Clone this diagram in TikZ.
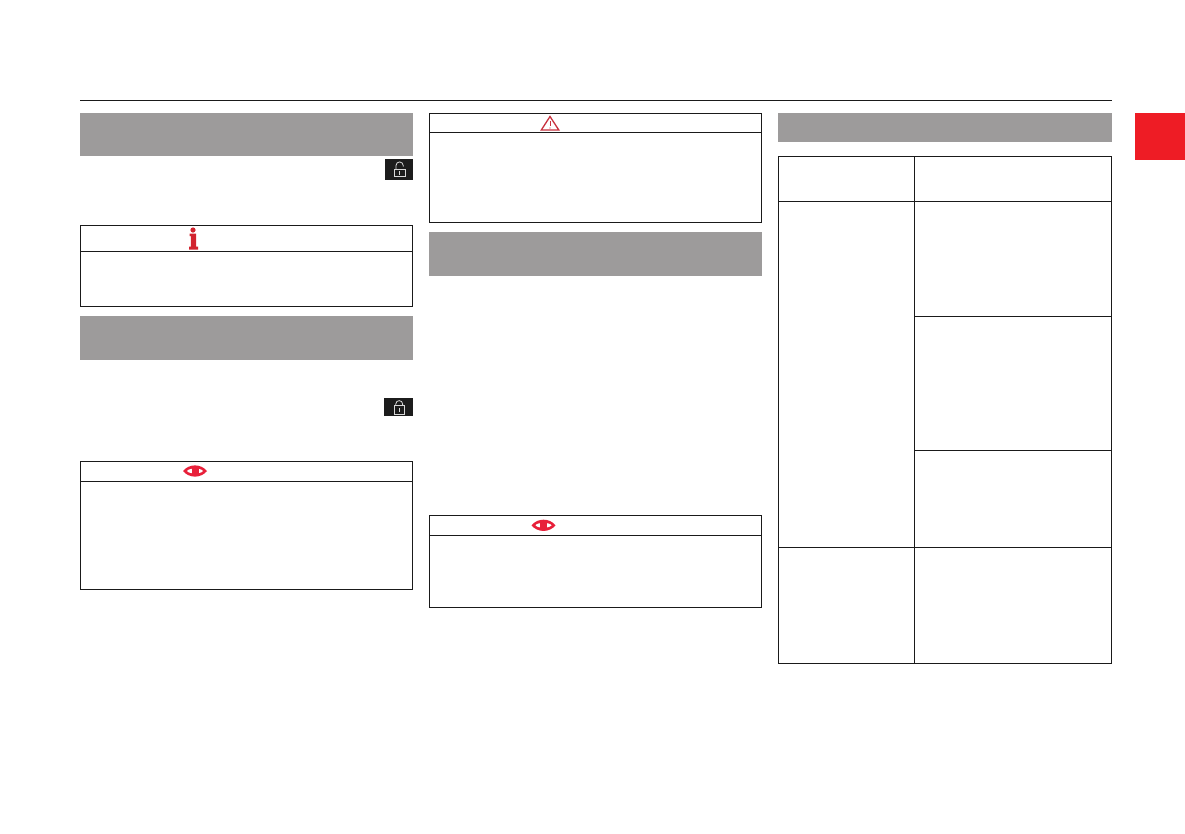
\documentclass[tikz,border=0pt]{standalone}
\definecolor{bandgrey}{HTML}{9D9B9B}
\definecolor{rule}{HTML}{1A1A1A}
\definecolor{tabred}{HTML}{EE1C25}
\definecolor{iconred}{HTML}{D2232E}
\definecolor{eyered}{HTML}{E8203A}
\definecolor{warnred}{HTML}{C8323F}
\definecolor{iconbg}{HTML}{1C1C1C}
\definecolor{iconfg}{HTML}{D8D8D8}
\tikzset{
  band/.style={fill=bandgrey,draw=none},
  frame/.style={draw=rule,line width=1.1pt},
  iconbox/.style={fill=iconbg,draw=none},
  iconline/.style={draw=iconfg,line width=0.8pt},
  pics/eye/.style={code={
    \fill[eyered] (-12,0) .. controls (-6,-7.5) and (6,-7.5) .. (12,0) .. controls (6,7.5) and (-6,7.5) .. (-12,0) -- cycle;
    \fill[white] (-8,0) .. controls (-6,-3.2) and (6,-3.2) .. (8,0) .. controls (6,3.2) and (-6,3.2) .. (-8,0) -- cycle;
    \fill[eyered] (-3.5,-4) rectangle (3.5,4);
  }},
}
\begin{document}
\begin{tikzpicture}[x=1pt,y=-1pt]
\useasboundingbox (0,0) rectangle (1185,833);
\fill[white] (0,0) rectangle (1185,833);
% header rule
\draw[rule,line width=1.1pt] (80,100.5) -- (1112,100.5);
% red tab
\fill[tabred] (1135,113) rectangle (1185,160);
% grey bands
\path[band] (80,113) rectangle (413,156);
\path[band] (80,316) rectangle (413,360);
\path[band] (429,232) rectangle (762,276);
\path[band] (778,113) rectangle (1112,142);
% unlock icon
\path[iconbox] (384.5,159) rectangle (413,179.5);
\draw[iconline] (394.5,169) rectangle (405,176.5);
\draw[iconline] (396,169) -- (396,165.5) arc[start angle=180,end angle=360,radius=3.6] -- (403.2,166.5);
\draw[iconfg,line width=0.7pt] (399.8,171) -- (399.8,175);
% lock icon
\path[iconbox] (384,398) rectangle (413,416);
\draw[iconline] (394,405.5) rectangle (404.5,414);
\draw[iconline] (395.8,405.5) -- (395.8,404) arc[start angle=180,end angle=360,radius=3.4] -- (402.6,405.5);
\draw[iconfg,line width=0.7pt] (399.2,408) -- (399.2,411.5);
% info box
\draw[frame] (80.5,225.5) rectangle (412.5,306.5);
\draw[frame] (80.5,251.5) -- (412.5,251.5);
\fill[iconred] (193,230) circle[radius=2.6];
\fill[iconred] (189.5,233.5) -- (196,233.5) -- (196,246.5) -- (198,246.5) -- (198,249.5) -- (189,249.5) -- (189,246.5) -- (190.8,246.5) -- (190.8,236) -- (189.5,236) -- cycle;
% left eye box
\draw[frame] (80.5,461.5) rectangle (412.5,589.5);
\draw[frame] (80.5,481.5) -- (412.5,481.5);
\pic at (195,471) {eye};
% warning box
\draw[frame] (429.5,113.5) rectangle (761.5,222.5);
\draw[frame] (429.5,132.5) -- (761.5,132.5);
\draw[warnred,line width=1.3pt,line join=miter] (550,116.5) -- (558.8,130) -- (541.3,130) -- cycle;
\draw[warnred,line width=0.7pt] (550,121) -- (550,126);
\fill[warnred] (550,128) circle[radius=0.6];
% middle eye box
\draw[frame] (429.5,515.5) rectangle (761.5,607.5);
\draw[frame] (429.5,535.5) -- (761.5,535.5);
\pic at (543.5,525.3) {eye};
% table
\draw[frame] (778.5,156.5) rectangle (1111.5,663.5);
\draw[frame] (914.5,156.5) -- (914.5,663.5);
\draw[frame] (778.5,201.5) -- (1111.5,201.5);
\draw[frame] (914.5,316.5) -- (1111.5,316.5);
\draw[frame] (914.5,450.5) -- (1111.5,450.5);
\draw[frame] (778.5,547.5) -- (1111.5,547.5);
\end{tikzpicture}
\end{document}
